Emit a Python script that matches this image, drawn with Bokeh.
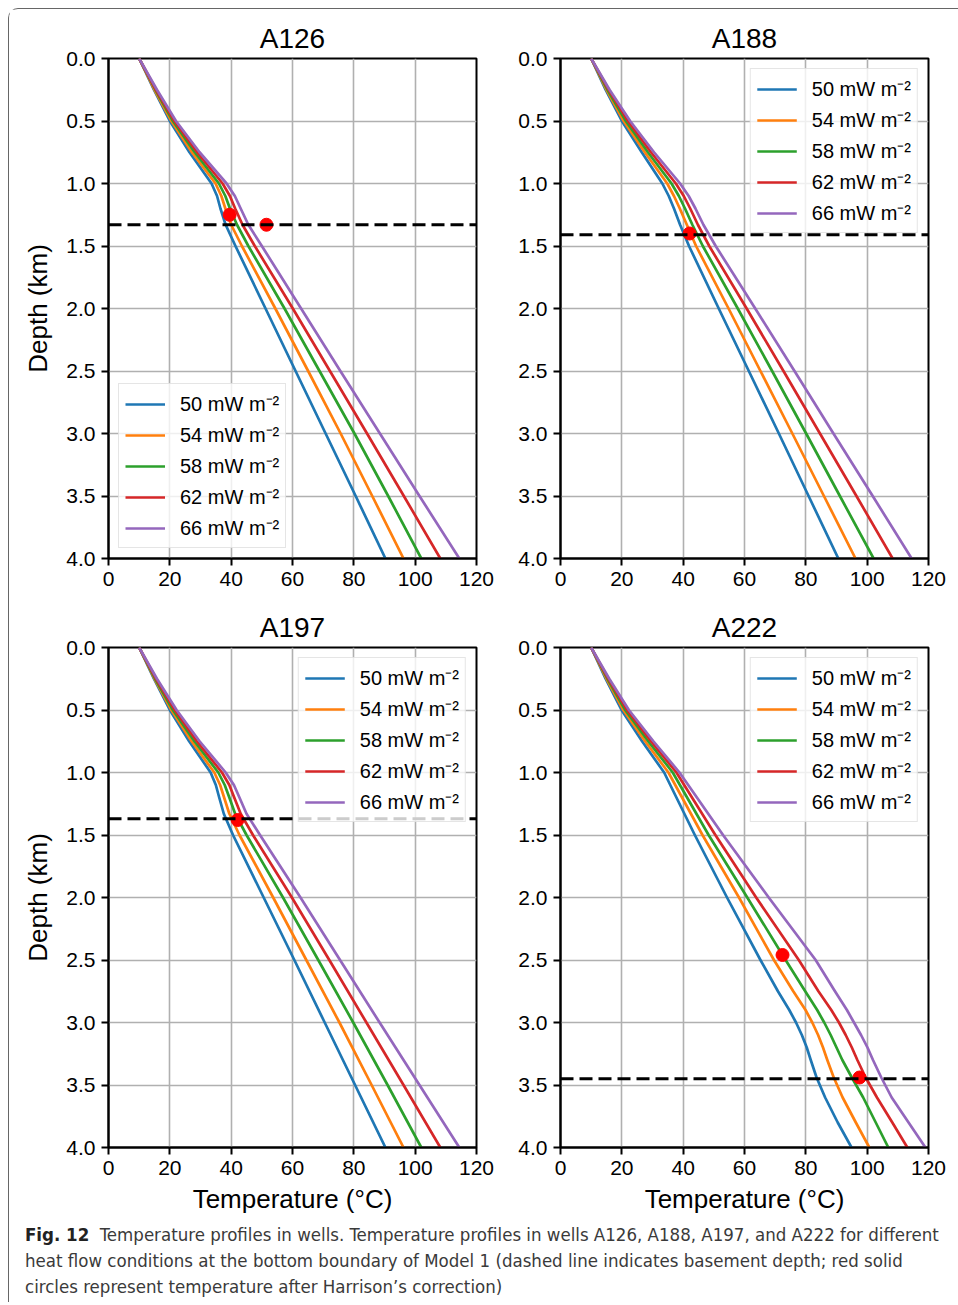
from bokeh.plotting import figure
from bokeh.models import (Range1d, Span, Legend, LegendItem, FixedTicker,
                          PrintfTickFormatter, Div, ColumnDataSource)
from bokeh.layouts import column, row
from bokeh.embed import file_html
from bokeh.resources import INLINE

# ---------------------------------------------------------------- data
heat_flows = [50, 54, 58, 62, 66]          # mW m^-2 at the model base
series_colors = ["#1f77b4", "#ff7f0e", "#2ca02c", "#d62728", "#9467bd"]
temp_ticks = [0, 20, 40, 60, 80, 100, 120]
depth_ticks = [0.0, 0.5, 1.0, 1.5, 2.0, 2.5, 3.0, 3.5, 4.0]

# Well A126
depth_a126 = [0, 0.25, 0.5, 0.75, 1.0, 1.1, 1.2, 1.33, 1.5, 2.0, 2.5, 3.0, 3.5, 4.0]
t_a126_50 = [10, 14.8, 20.0, 26.4, 33.6, 35.4, 36.5, 38.2, 41.4, 51.2, 61.0, 70.8, 80.6, 90.3]
t_a126_54 = [10, 15.0, 20.5, 27.2, 34.9, 36.8, 38.1, 40.0, 43.5, 54.4, 65.1, 75.7, 86.0, 96.2]
t_a126_58 = [10, 15.3, 21.0, 28.1, 36.0, 38.1, 39.6, 41.9, 45.6, 57.4, 68.8, 80.2, 91.2, 102.0]
t_a126_62 = [10, 15.5, 21.5, 28.9, 37.2, 39.6, 41.3, 43.7, 47.7, 60.1, 72.2, 84.3, 96.3, 108.2]
t_a126_66 = [10, 15.8, 22.0, 29.7, 38.5, 41.2, 43.1, 45.6, 50.0, 62.8, 75.6, 88.5, 101.4, 114.4]
basement_a126 = 1.33
corr_t_a126 = [39.5, 51.5]
corr_z_a126 = [1.25, 1.33]

# Well A188
depth_a188 = [0, 0.25, 0.5, 0.75, 1.0, 1.1, 1.2, 1.33, 1.5, 2.0, 2.5, 3.0, 3.5, 4.0]
t_a188_50 = [10, 14.7, 20.0, 26.5, 33.2, 35.3, 37.0, 39.0, 41.9, 51.6, 61.4, 71.2, 80.9, 90.6]
t_a188_54 = [10, 15.0, 20.6, 27.5, 34.8, 37.0, 38.9, 41.2, 44.2, 54.8, 65.2, 75.6, 85.9, 96.2]
t_a188_58 = [10, 15.3, 21.3, 28.5, 36.2, 38.6, 40.6, 43.0, 46.4, 57.8, 69.0, 80.1, 91.1, 102.1]
t_a188_62 = [10, 15.7, 22.0, 29.5, 37.6, 40.2, 42.3, 44.8, 48.5, 60.7, 72.7, 84.6, 96.5, 108.3]
t_a188_66 = [10, 16.0, 22.7, 30.5, 39.0, 41.8, 44.0, 46.6, 50.6, 63.5, 76.3, 89.0, 101.8, 114.5]
basement_a188 = 1.41
corr_t_a188 = [42.1]
corr_z_a188 = [1.40]

# Well A197
depth_a197 = [0, 0.25, 0.5, 0.75, 1.0, 1.1, 1.2, 1.33, 1.5, 2.0, 2.5, 3.0, 3.5, 4.0]
t_a197_50 = [10, 14.8, 20.0, 26.3, 33.3, 35.0, 36.1, 37.6, 40.6, 50.6, 60.6, 70.5, 80.4, 90.3]
t_a197_54 = [10, 15.0, 20.5, 27.1, 34.5, 36.4, 37.7, 39.4, 42.7, 53.7, 64.5, 75.3, 85.8, 96.2]
t_a197_58 = [10, 15.2, 21.0, 28.0, 35.8, 37.9, 39.4, 41.3, 45.0, 56.9, 68.4, 79.8, 91.0, 102.0]
t_a197_62 = [10, 15.5, 21.6, 28.8, 37.0, 39.4, 41.0, 43.1, 47.1, 59.8, 72.0, 84.1, 96.2, 108.2]
t_a197_66 = [10, 15.8, 22.2, 29.7, 38.2, 40.9, 42.7, 45.0, 49.4, 62.6, 75.5, 88.4, 101.4, 114.4]
basement_a197 = 1.37
corr_t_a197 = [42.1]
corr_z_a197 = [1.38]

# Well A222
depth_a222 = [0, 0.25, 0.5, 0.75, 1.0, 1.5, 2.0, 2.5, 2.75, 2.9, 3.0, 3.1, 3.2, 3.3,
              3.44, 3.6, 3.8, 4.0]
t_a222_50 = [10, 14.7, 19.9, 26.6, 33.8, 43.8, 54.3, 65.2, 70.9, 74.6, 76.8, 78.7,
             80.3, 81.6, 83.5, 86.3, 90.4, 94.9]
t_a222_54 = [10, 15.0, 20.5, 27.6, 35.2, 46.3, 58.2, 69.6, 75.9, 79.9, 82.1, 84.0,
             85.6, 87.0, 89.1, 92.0, 96.3, 100.7]
t_a222_58 = [10, 15.3, 21.1, 28.6, 36.6, 48.3, 60.9, 73.4, 79.8, 83.7, 86.0, 88.1,
             90.0, 91.9, 95.0, 98.7, 102.8, 106.9]
t_a222_62 = [10, 15.6, 21.7, 29.5, 37.8, 50.5, 63.8, 77.7, 84.1, 88.3, 90.8, 93.0,
             95.0, 96.8, 99.5, 103.2, 108.2, 113.1]
t_a222_66 = [10, 15.9, 22.3, 30.3, 38.8, 53.0, 67.9, 83.2, 89.5, 93.4, 95.7, 98.0,
             100.1, 101.9, 104.6, 108.0, 113.5, 119.0]
basement_a222 = 3.45
corr_t_a222 = [72.4, 97.5]
corr_z_a222 = [2.46, 3.44]

# ---------------------------------------------------------------- styling
FONT = "Liberation Sans"
FRAME_W, FRAME_H = 368, 500


def make_panel(name, depth, temps, basement, corr_t, corr_z, legend_loc,
               ylabel, xlabel, b_left, b_right, b_top, b_bottom):
    p = figure(frame_width=FRAME_W, frame_height=FRAME_H,
               x_range=Range1d(0, 120), y_range=Range1d(4.0, 0.0),
               min_border_left=b_left, min_border_right=b_right,
               min_border_top=b_top, min_border_bottom=b_bottom,
               output_backend="svg", toolbar_location=None, title=name)
    p.background_fill_color = "white"
    p.border_fill_color = "white"
    p.outline_line_color = "black"
    p.outline_line_width = 2
    p.outline_line_alpha = 1

    p.title.text_font = FONT
    p.title.text_font_size = "28px"
    p.title.text_font_style = "normal"
    p.title.align = "center"
    p.title.text_color = "black"
    p.title.standoff = 10

    for ax in (p.xaxis[0], p.yaxis[0]):
        ax.axis_line_width = 2
        ax.axis_line_color = "black"
        ax.major_tick_line_width = 2
        ax.major_tick_line_color = "black"
        ax.major_tick_out = 7
        ax.major_tick_in = 0
        ax.minor_tick_out = 0
        ax.minor_tick_in = 0
        ax.major_label_text_font = FONT
        ax.major_label_text_font_size = "21px"
        ax.major_label_text_color = "black"
        ax.axis_label_text_font = FONT
        ax.axis_label_text_font_size = "26px"
        ax.axis_label_text_font_style = "normal"
        ax.axis_label_text_color = "black"
        ax.major_label_standoff = 6
    p.xaxis.ticker = FixedTicker(ticks=temp_ticks)
    p.yaxis.ticker = FixedTicker(ticks=depth_ticks)
    p.xaxis.formatter = PrintfTickFormatter(format="%d")
    p.yaxis.formatter = PrintfTickFormatter(format="%.1f")
    if ylabel:
        p.yaxis.axis_label = ylabel
        p.yaxis.axis_label_standoff = 10
    if xlabel:
        p.xaxis.axis_label = xlabel
        p.xaxis.axis_label_standoff = 6

    p.xgrid.grid_line_color = "#b0b0b0"
    p.ygrid.grid_line_color = "#b0b0b0"
    p.xgrid.grid_line_width = 1.6
    p.ygrid.grid_line_width = 1.6

    items = []
    for hf, col, t in zip(heat_flows, series_colors, temps):
        src = ColumnDataSource(dict(temp=t, depth=depth))
        r = p.line("temp", "depth", source=src, line_color=col, line_width=2.7,
                   line_join="round")
        items.append(LegendItem(label=f"{hf} mW m\u207b\u00b2", renderers=[r]))

    p.add_layout(Span(location=basement, dimension="width", line_color="black",
                      line_width=3, line_dash="13 6", level="glyph"))

    dots = ColumnDataSource(dict(temp=corr_t, depth=corr_z))
    p.scatter("temp", "depth", source=dots, size=13, fill_color="#ff0000",
              line_color="#ff0000")

    legend = Legend(items=items, location=legend_loc)
    legend.label_text_font = FONT
    legend.label_text_font_size = "20px"
    legend.label_text_color = "black"
    legend.glyph_width = 40
    legend.glyph_height = 20
    legend.label_height = 20
    legend.label_standoff = 15
    legend.spacing = 4
    legend.padding = 6
    legend.margin = 10
    legend.border_line_color = "#cccccc"
    legend.border_line_width = 1.5
    legend.background_fill_color = "white"
    legend.background_fill_alpha = 0.8
    p.add_layout(legend)
    return p


f1 = make_panel("A126", depth_a126,
                [t_a126_50, t_a126_54, t_a126_58, t_a126_62, t_a126_66],
                basement_a126, corr_t_a126, corr_z_a126, "bottom_left",
                "Depth (km)", None, 99, 28, 49, 42)
f2 = make_panel("A188", depth_a188,
                [t_a188_50, t_a188_54, t_a188_58, t_a188_62, t_a188_66],
                basement_a188, corr_t_a188, corr_z_a188, "top_right",
                None, None, 56, 30, 49, 42)
f3 = make_panel("A197", depth_a197,
                [t_a197_50, t_a197_54, t_a197_58, t_a197_62, t_a197_66],
                basement_a197, corr_t_a197, corr_z_a197, "top_right",
                "Depth (km)", "Temperature (°C)", 99, 28, 47, 68)
f4 = make_panel("A222", depth_a222,
                [t_a222_50, t_a222_54, t_a222_58, t_a222_62, t_a222_66],
                basement_a222, corr_t_a222, corr_z_a222, "top_right",
                None, "Temperature (°C)", 56, 30, 47, 68)

caption_html = (
    "<span style='font-weight:bold;color:#222;'>Fig. 12</span>&nbsp; "
    "Temperature profiles in wells. "
    "Temperature profiles in wells A126, A188, A197, and A222 for different<br>"
    "heat flow conditions at the bottom boundary of Model 1 (dashed line "
    "indicates basement depth; red solid<br>"
    "circles represent temperature after Harrison\u2019s correction)"
)
caption = Div(text=caption_html, width=930, height=80, margin=(6, 0, 0, 16),
              styles={"font-family": "'Liberation Sans Narrow', 'DejaVu Sans Condensed', sans-serif",
                      "font-size": "18.5px", "line-height": "26px",
                      "color": "#3a3a3a", "white-space": "nowrap"})

layout = column(row(f1, f2), row(f3, f4), caption,
                margin=(8, 0, 0, 8),
                styles={"border-top": "1px solid #666666",
                        "border-left": "1px solid #666666",
                        "border-top-left-radius": "10px"})

open("out.html", "w").write(file_html(layout, INLINE))
